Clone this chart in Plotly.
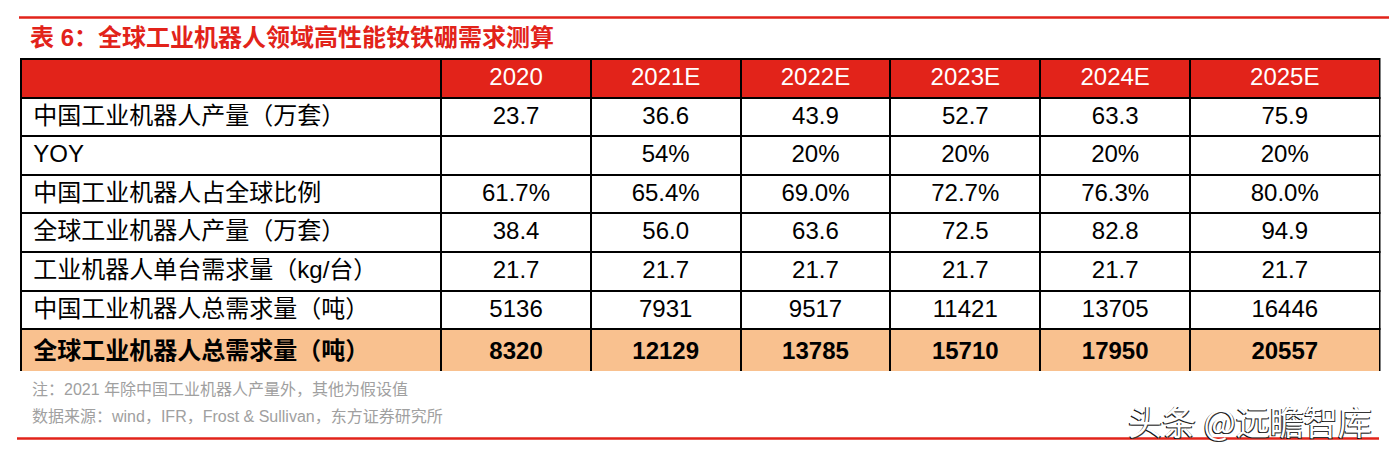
import plotly.graph_objects as go

W, H = 1389, 457

title = "表 6：全球工业机器人领域高性能钕铁硼需求测算"
years = ["2020", "2021E", "2022E", "2023E", "2024E", "2025E"]
row_labels = [
    "中国工业机器人产量（万套）",
    "YOY",
    "中国工业机器人占全球比例",
    "全球工业机器人产量（万套）",
    "工业机器人单台需求量（kg/台）",
    "中国工业机器人总需求量（吨）",
    "全球工业机器人总需求量（吨）",
]
china_output = ["23.7", "36.6", "43.9", "52.7", "63.3", "75.9"]
yoy = ["", "54%", "20%", "20%", "20%", "20%"]
china_share = ["61.7%", "65.4%", "69.0%", "72.7%", "76.3%", "80.0%"]
global_output = ["38.4", "56.0", "63.6", "72.5", "82.8", "94.9"]
per_unit_kg = ["21.7", "21.7", "21.7", "21.7", "21.7", "21.7"]
china_demand = ["5136", "7931", "9517", "11421", "13705", "16446"]
global_demand = ["8320", "12129", "13785", "15710", "17950", "20557"]
note1 = "注：2021 年除中国工业机器人产量外，其他为假设值"
note2 = "数据来源：wind，IFR，Frost & Sullivan，东方证券研究所"
watermark = "头条 @远瞻智库"

RED = "#E2231A"
PEACH = "#F9C18F"
FONT = "Liberation Sans, Arial, Noto Sans CJK SC, sans-serif"

rows = [china_output, yoy, china_share, global_output, per_unit_kg, china_demand, global_demand]
n_rows = len(rows)

label_col = []
for i, l in enumerate(row_labels):
    t = ("<b>%s</b>" % l) if i == n_rows - 1 else l
    label_col.append("\u2009" + t)
columns = [label_col]
for j in range(len(years)):
    col = []
    for i, r in enumerate(rows):
        v = r[j]
        col.append(("<b>%s</b>" % v) if i == n_rows - 1 and v else v)
    columns.append(col)

row_fill = ["white"] * (n_rows - 1) + [PEACH]
fills = [row_fill for _ in columns]

x0, x1 = 20.5, 1380.0
y_top = 59.0
row_h = 38.6
tbl_h = row_h * (n_rows + 1)

fig = go.Figure(go.Table(
    columnwidth=[421, 149.3, 150, 149.7, 150, 149.8, 189.5],
    domain=dict(x=[x0 / W, x1 / W], y=[1 - (y_top + tbl_h + 4) / H, 1 - y_top / H]),
    header=dict(
        values=[""] + years,
        fill_color=RED,
        line=dict(color="black", width=2),
        align="center",
        height=row_h,
        font=dict(family=FONT, size=24, color="white"),
    ),
    cells=dict(
        values=columns,
        fill_color=fills,
        line=dict(color="black", width=2),
        align=["left"] + ["center"] * len(years),
        height=row_h,
        font=dict(family=FONT, size=24, color="black"),
    ),
))

shapes = [
    dict(type="line", xref="paper", yref="paper", x0=19 / W, x1=1389 / W,
         y0=1 - 17.5 / H, y1=1 - 17.5 / H, line=dict(color=RED, width=2.5)),
    dict(type="line", xref="paper", yref="paper", x0=17 / W, x1=1379 / W,
         y0=1 - 438.5 / H, y1=1 - 438.5 / H, line=dict(color=RED, width=2.5)),
]

wm_font = dict(family="Noto Sans CJK SC, sans-serif", size=34)
annotations = [
    dict(text="<b>%s</b>" % title, x=28 / W, y=1 - 37 / H, xref="paper", yref="paper",
         xanchor="left", yanchor="middle", showarrow=False,
         font=dict(family=FONT, size=24, color=RED)),
    dict(text=note1, x=30 / W, y=1 - 389 / H, xref="paper", yref="paper",
         xanchor="left", yanchor="middle", showarrow=False,
         font=dict(family=FONT, size=16, color="#A0A0A0")),
    dict(text=note2, x=30 / W, y=1 - 416 / H, xref="paper", yref="paper",
         xanchor="left", yanchor="middle", showarrow=False,
         font=dict(family=FONT, size=16, color="#A0A0A0")),
]
for dx, dy, c in [(-1.2, 1.2, "#111111"), (0.8, 1.2, "#333333"), (0, 0, "white")]:
    annotations.append(dict(
        text=watermark, x=(1374 + dx) / W, y=1 - (420 + dy) / H, xref="paper", yref="paper",
        xanchor="right", yanchor="middle", showarrow=False,
        font=dict(wm_font, color=c)))

fig.update_layout(
    width=W, height=H,
    margin=dict(l=0, r=0, t=0, b=0),
    paper_bgcolor="white",
    shapes=shapes,
    annotations=annotations,
)

fig.write_html("out.html", config={"displayModeBar": False},
               post_script="document.body.style.margin='0px';document.body.style.overflow='hidden';")
